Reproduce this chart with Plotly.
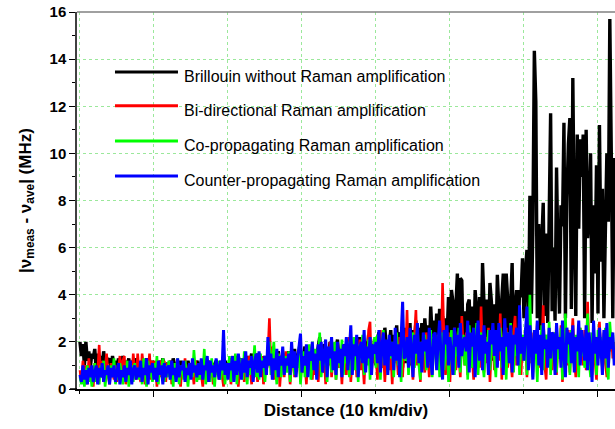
import plotly.graph_objects as go

# ---------------- data ----------------
STEP_KM = 0.2
brillouin = [
    2.0, 1.4, 1.9, 1.0, 2.0, 1.2, 1.6, 0.9, 1.5, 1.3, 1.7, 0.8, 1.5, 1.1, 1.4, 0.9, 1.6, 1.0, 1.3, 1.2,
    1.3, 0.8, 1.4, 1.0, 1.2, 0.7, 1.3, 0.9, 1.1, 1.4, 0.8, 1.2, 1.0, 1.3, 0.7, 1.1, 1.2, 0.9, 1.3, 0.8,
    1.1, 0.9, 1.2, 0.7, 1.0, 1.3, 0.8, 1.1, 0.9, 1.2, 0.7, 1.0, 1.1, 0.8, 1.2, 0.9, 1.3, 0.7, 1.0, 1.1,
    0.9, 1.2, 0.8, 1.3, 1.0, 0.7, 1.1, 0.9, 1.2, 0.8, 1.0, 1.1, 0.7, 1.2, 0.9, 1.0, 0.8, 1.1, 0.9, 1.2,
    1.0, 0.8, 1.2, 0.9, 1.1, 0.7, 1.0, 1.2, 0.8, 1.1, 0.9, 1.0, 1.2, 0.7, 1.1, 0.9, 1.0, 0.8, 1.2, 1.0,
    1.1, 0.9, 1.3, 0.8, 1.2, 1.0, 1.4, 0.9, 1.1, 1.3, 0.8, 1.2, 1.0, 1.4, 0.9, 1.2, 1.5, 1.0, 1.3, 1.5,
    1.2, 1.5, 1.0, 1.3, 1.1, 1.4, 0.9, 1.3, 1.2, 1.5, 1.0, 1.4, 1.1, 1.3, 1.6, 1.0, 1.4, 1.2, 1.5, 1.1,
    1.3, 1.6, 1.1, 1.4, 1.2, 1.7, 1.0, 1.5, 1.3, 1.6, 1.1, 1.4, 1.8, 1.2, 1.5, 1.3, 1.7, 1.1, 1.6, 1.4,
    1.4, 1.8, 2.2, 1.3, 1.6, 1.9, 1.2, 1.7, 1.5, 2.0, 1.3, 1.8, 1.4, 1.6, 2.1, 1.2, 1.7, 1.5, 1.9, 1.4,
    1.8, 1.3, 2.0, 1.6, 1.9, 1.4, 2.1, 1.5, 1.8, 2.2, 1.3, 1.9, 1.6, 2.0, 1.5, 2.3, 1.7, 1.9, 1.4, 2.1,
    1.0, 2.1, 2.4, 1.2, 2.0, 0.9, 2.6, 1.8, 1.1, 1.9, 2.5, 1.0, 2.3, 2.0, 2.7, 1.2, 2.4, 2.1, 0.9, 2.6,
    1.1, 2.6, 1.8, 2.8, 1.0, 2.5, 1.9, 2.9, 1.3, 2.6, 2.0, 2.8, 1.2, 3.0, 2.1, 2.7, 1.4, 3.5, 2.2, 2.9,
    1.8, 3.2, 1.5, 3.4, 2.0, 3.1, 1.2, 3.0, 2.1, 3.9, 1.6, 4.2, 3.7, 1.4, 3.5, 4.9, 1.9, 4.7, 4.6, 1.5,
    3.3, 1.4, 3.6, 3.8, 1.7, 3.5, 1.1, 4.2, 3.4, 1.6, 3.9, 1.3, 5.35, 3.6, 1.5, 3.8, 2.0, 4.5, 3.7, 1.2,
    3.6, 1.5, 4.85, 3.4, 1.8, 3.8, 4.9, 1.3, 4.9, 3.8, 1.7, 3.6, 5.35, 1.4, 3.5, 4.2, 1.9, 4.2, 3.9, 5.55,
    3.0, 5.0, 5.9, 2.6, 8.2, 3.2, 6.8, 14.35, 12.2, 3.0, 7.0, 2.5, 6.2, 7.9, 3.1, 6.6, 2.8, 7.2, 11.7, 3.3,
    6.0, 2.9, 9.4, 5.5, 3.2, 7.8, 6.9, 11.3, 3.0, 8.1, 10.4, 11.5, 3.4, 13.2, 7.0, 3.1, 10.8, 6.8, 10.6, 9.0,
    10.8, 3.0, 11.0, 6.4, 7.5, 10.0, 2.8, 7.8, 4.9, 9.5, 3.2, 11.2, 5.4, 8.5, 3.0, 6.7, 10.0, 7.1, 15.7, 10.0,
    3.0, 9.8,
]
bidirectional = [
    0.8, 0.3, 1.2, 0.5, 1.0, 0.2, 1.3, 0.6, 0.9, 0.1, 1.1, 0.4, 0.7, 1.87, 0.5, 1.2, 0.3, 0.9, 1.5, 0.6,
    0.2, 1.1, 0.7, 0.4, 1.0, 0.3, 0.8, 1.4, 0.5, 1.2, 1.4, 0.2, 0.9, 0.6, 1.1, 0.3, 1.5, 0.8, 0.4, 1.5,
    0.7, 0.3, 1.5, 0.9, 0.2, 1.1, 0.6, 1.5, 0.4, 1.2, 0.8, 1.2, 0.1, 1.0, 1.2, 0.5, 0.9, 1.2, 0.3, 1.1,
    0.6, 1.2, 0.2, 0.9, 1.0, 0.4, 1.1, 0.7, 0.1, 1.0, 0.6, 1.3, 0.3, 0.8, 1.1, 0.5, 0.9, 0.2, 1.2, 0.7,
    0.4, 1.0, 0.6, 0.1, 0.9, 1.2, 0.3, 0.8, 0.5, 1.1, 0.2, 0.9, 0.7, 1.0, 0.4, 1.2, 0.6, 0.1, 1.0, 0.8,
    0.5, 1.2, 0.2, 0.9, 1.4, 0.6, 1.1, 0.1, 1.0, 0.7, 1.3, 0.3, 1.1, 0.5, 1.4, 0.8, 0.2, 1.2, 0.6, 1.3,
    0.3, 1.1, 0.6, 1.4, 0.2, 1.0, 0.7, 1.5, 3.0, 0.9, 1.8, 0.4, 1.2, 0.6, 1.5, 0.1, 1.0, 1.3, 0.5, 1.6,
    0.8, 1.3, 0.2, 1.1, 1.6, 0.5, 1.2, 0.9, 1.7, 0.3, 1.4, 0.7, 1.1, 0.2, 1.5, 1.0, 1.8, 0.4, 1.3, 0.6,
    1.5, 0.3, 1.2, 1.8, 0.7, 1.4, 0.2, 1.6, 1.0, 2.0, 0.5, 1.3, 1.7, 0.4, 1.9, 0.9, 1.4, 0.2, 1.6, 1.1,
    0.6, 1.8, 2.2, 0.3, 1.4, 1.0, 1.9, 0.5, 1.5, 2.1, 0.8, 1.3, 0.2, 1.7, 1.2, 2.5, 2.85, 0.7, 1.6, 1.1,
    1.5, 0.4, 2.0, 2.5, 0.9, 1.7, 0.3, 1.4, 2.0, 0.8, 1.6, 0.2, 1.9, 1.1, 1.5, 0.6, 2.2, 1.3, 0.5, 1.8,
    1.2, 3.35, 0.8, 1.9, 1.4, 0.4, 2.2, 3.35, 1.0, 1.6, 0.3, 2.0, 1.3, 0.7, 2.4, 1.5, 0.5, 2.1, 1.1, 1.8,
    2.3, 0.9, 1.7, 2.6, 1.3, 4.5, 2.0, 0.6, 1.5, 2.4, 0.3, 1.9, 1.2, 2.6, 0.8, 2.0, 1.4, 0.5, 3.1, 1.7,
    1.0, 2.4, 0.6, 1.8, 2.2, 1.3, 0.4, 2.0, 1.6, 2.7, 0.9, 3.5, 1.4, 0.7, 2.2, 1.1, 2.6, 0.3, 1.8, 2.3,
    0.8, 2.5, 1.8, 1.2, 3.2, 0.4, 2.1, 1.6, 2.6, 0.9, 2.0, 1.3, 0.5, 2.4, 3.1, 1.0, 1.7, 2.3, 0.6, 2.0,
    1.4, 2.6, 0.5, 2.0, 1.1, 2.4, 0.7, 1.8, 1.3, 2.85, 0.9, 2.2, 1.6, 3.55, 1.0, 0.4, 2.3, 1.5, 2.0, 0.8,
    1.8, 2.4, 0.6, 2.0, 1.3, 2.7, 0.3, 1.6, 2.2, 1.0, 2.5, 0.7, 1.9, 3.0, 1.4, 0.5, 2.2, 1.1, 2.6, 1.6,
    1.0, 2.5, 0.8, 3.7, 1.4, 2.0, 0.6, 2.3, 1.2, 0.4, 2.1, 2.85, 1.5, 0.9, 2.4, 1.1, 0.5, 2.2, 1.6, 2.4,
    1.3, 2.0,
]
co_propagating = [
    0.5, 0.2, 0.9, 0.1, 0.7, 1.0, 0.3, 0.8, 0.1, 0.6, 1.1, 0.3, 0.8, 0.2, 1.0, 0.5, 1.2, 0.1, 0.7, 0.9,
    0.3, 1.0, 0.6, 1.3, 0.2, 0.8, 0.4, 1.1, 0.7, 0.2, 0.9, 0.5, 1.2, 0.1, 0.8, 1.0, 0.3, 1.1, 0.6, 0.9,
    0.4, 1.0, 0.2, 1.3, 0.7, 0.1, 1.2, 0.5, 0.9, 0.3, 1.1, 0.6, 1.4, 0.2, 1.0, 0.7, 1.3, 0.3, 1.0, 0.5,
    1.2, 0.4, 0.9, 0.1, 1.1, 0.6, 1.3, 0.2, 0.8, 1.0, 0.4, 1.2, 0.7, 0.1, 0.9, 1.1, 0.5, 1.65, 0.8, 0.3,
    1.0, 0.4, 1.2, 0.6, 1.7, 0.2, 0.9, 1.1, 0.3, 1.3, 0.7, 0.1, 1.0, 0.6, 1.2, 0.4, 0.8, 1.3, 0.2, 1.0,
    0.6, 1.4, 0.3, 1.0, 0.8, 1.5, 0.2, 1.1, 0.7, 1.3, 0.4, 1.6, 0.9, 0.2, 1.2, 0.6, 1.4, 1.0, 1.85, 0.5,
    1.2, 0.4, 1.5, 0.8, 1.3, 0.3, 1.1, 1.6, 2.0, 0.6, 1.4, 2.0, 0.9, 0.2, 1.5, 1.1, 0.5, 1.6, 1.0, 1.4,
    0.7, 1.6, 0.3, 1.2, 1.5, 0.6, 1.3, 0.9, 1.8, 0.2, 1.1, 1.6, 0.5, 1.4, 0.8, 1.9, 0.4, 1.2, 1.0, 1.7,
    0.8, 1.3, 2.4, 0.5, 1.6, 1.0, 1.9, 0.3, 1.4, 1.8, 0.7, 1.5, 2.0, 0.4, 1.2, 1.7, 0.9, 2.1, 0.6, 1.5,
    1.1, 2.0, 0.5, 1.7, 1.3, 2.2, 0.8, 1.5, 0.3, 1.9, 1.2, 2.3, 0.6, 1.6, 1.0, 2.1, 0.4, 1.8, 1.4, 2.2,
    0.9, 2.3, 1.5, 0.4, 1.9, 2.5, 1.1, 1.6, 0.7, 2.2, 1.3, 2.0, 0.5, 1.8, 2.4, 1.0, 1.5, 0.3, 2.1, 1.7,
    1.2, 2.2, 0.6, 1.9, 1.4, 2.4, 0.9, 1.7, 2.7, 1.0, 0.4, 2.0, 1.5, 2.3, 0.8, 1.8, 1.1, 2.5, 0.5, 1.6,
    2.0, 1.0, 2.3, 0.5, 1.8, 2.4, 0.8, 1.6, 2.2, 0.3, 1.7, 2.5, 1.1, 0.6, 2.0, 1.4, 2.6, 0.7, 1.8, 2.3,
    1.0, 2.0, 0.4, 2.7, 1.5, 0.9, 2.2, 1.3, 2.8, 0.6, 1.9, 2.4, 1.2, 0.5, 2.1, 1.6, 2.5, 0.8, 1.7, 2.2,
    1.3, 0.5, 2.3, 1.8, 2.6, 0.9, 1.5, 2.1, 0.4, 2.4, 1.1, 2.8, 1.6, 0.7, 2.2, 1.4, 2.5, 0.6, 1.9, 2.3,
    1.2, 2.6, 0.6, 2.1, 4.0, 1.4, 0.5, 2.4, 1.8, 0.3, 2.2, 1.5, 2.7, 0.8, 1.9, 2.3, 1.1, 2.85, 0.6, 2.0,
    1.6, 2.4, 0.7, 2.0, 1.3, 2.6, 0.4, 1.8, 3.2, 1.1, 2.2, 0.6, 2.5, 1.5, 0.9, 2.3, 1.7, 0.5, 2.6, 1.4,
    2.1, 0.9, 1.6, 3.2, 1.2, 0.5, 2.4, 1.8, 2.0, 0.6, 2.5, 1.3, 2.2, 0.8, 1.7, 2.6, 1.0, 0.4, 2.85, 1.9,
    2.3, 1.2,
]
counter_propagating = [
    0.6, 0.3, 1.0, 0.4, 0.8, 0.2, 0.9, 0.5, 1.0, 0.3, 0.7, 1.0, 0.2, 0.9, 0.5, 1.1, 0.3, 0.8, 0.6, 1.0,
    0.2, 0.9, 0.5, 1.0, 0.3, 0.7, 1.1, 0.2, 0.8, 0.5, 1.0, 0.3, 0.9, 0.6, 1.2, 0.2, 0.8, 1.0, 0.4, 0.9,
    0.5, 1.2, 0.3, 0.9, 0.6, 1.3, 0.2, 1.0, 0.7, 1.1, 0.4, 0.9, 0.3, 1.2, 0.6, 1.0, 0.2, 1.1, 0.5, 0.9,
    1.0, 0.4, 1.2, 0.6, 0.9, 0.3, 1.3, 0.5, 1.0, 0.8, 1.2, 0.3, 0.9, 0.6, 1.1, 0.4, 1.3, 0.7, 1.0, 0.5,
    1.1, 0.6, 1.3, 0.4, 1.0, 0.8, 1.4, 0.3, 1.2, 0.7, 1.0, 0.5, 1.3, 0.9, 0.4, 1.2, 0.8, 2.5, 0.6, 1.1,
    0.4, 1.1, 0.8, 1.4, 0.3, 1.2, 0.6, 1.5, 0.9, 0.4, 1.3, 0.7, 1.6, 0.5, 1.2, 0.9, 1.4, 0.3, 1.1, 1.5,
    0.7, 1.6, 0.5, 1.2, 0.9, 1.4, 0.6, 2.2, 1.0, 1.5, 0.4, 1.3, 0.8, 1.7, 0.5, 1.4, 1.0, 1.8, 0.6, 1.3,
    1.0, 1.5, 0.6, 2.0, 0.9, 1.6, 0.5, 1.3, 1.8, 2.35, 0.7, 1.4, 1.0, 1.9, 0.5, 1.6, 1.2, 2.0, 0.8, 1.5,
    0.4, 1.9, 1.2, 2.0, 0.7, 1.5, 2.1, 0.5, 1.8, 1.3, 2.2, 0.8, 1.6, 0.6, 2.0, 1.1, 1.7, 0.5, 1.9, 1.4,
    2.2, 0.8, 1.6, 2.7, 0.6, 1.9, 1.4, 2.3, 0.5, 1.7, 2.0, 1.1, 2.5, 0.7, 1.8, 1.3, 2.2, 0.6, 1.9, 1.5,
    2.0, 1.1, 2.5, 0.7, 1.8, 2.4, 1.0, 2.1, 0.6, 2.3, 1.4, 2.0, 0.8, 2.6, 1.2, 1.9, 0.5, 2.2, 3.7, 1.3,
    1.4, 2.2, 0.9, 2.6, 1.7, 0.5, 2.3, 1.5, 2.8, 1.1, 2.0, 0.7, 2.4, 1.6, 2.1, 0.9, 2.6, 1.3, 0.6, 2.3,
    2.4, 0.8, 2.0, 2.9, 1.3, 0.4, 2.5, 1.9, 2.7, 1.0, 2.2, 1.5, 0.6, 2.6, 1.8, 2.3, 0.9, 2.8, 1.4, 2.0,
    2.2, 1.6, 2.9, 0.7, 2.4, 1.8, 2.6, 0.5, 2.1, 2.9, 1.2, 2.3, 0.8, 2.7, 1.5, 2.0, 0.6, 2.5, 1.9, 2.8,
    1.4, 2.5, 0.9, 2.8, 1.6, 2.2, 0.6, 3.0, 1.8, 2.4, 1.1, 2.7, 0.7, 2.3, 1.9, 2.6, 1.0, 3.55, 1.5, 2.2,
    1.2, 2.4, 3.5, 0.8, 2.7, 1.9, 0.4, 2.5, 1.5, 2.9, 1.0, 2.3, 0.6, 2.8, 1.7, 2.1, 0.9, 2.6, 1.3, 2.4,
    2.3, 0.6, 2.8, 1.7, 2.2, 0.9, 2.9, 1.4, 0.5, 2.6, 1.9, 2.4, 1.1, 2.7, 0.7, 2.2, 1.6, 2.9, 1.0, 2.5,
    1.9, 1.2, 2.7, 0.8, 2.4, 1.6, 0.3, 2.9, 1.5, 2.2, 1.0, 2.6, 1.8, 0.6, 2.5, 1.3, 2.8, 0.9, 2.2, 1.7,
    2.4, 1.0,
]
series_names = [
    "Brillouin without Raman amplification",
    "Bi-directional Raman amplification",
    "Co-propagating Raman amplification",
    "Counter-propagating Raman amplification",
]
series_colors = ["#000000", "#ff0000", "#00ff00", "#0000ff"]
series_widths = [3.4, 2.6, 2.6, 3.0]
y_tick_values = [0, 2, 4, 6, 8, 10, 12, 14, 16]

distance = [round(i * STEP_KM, 2) for i in range(len(brillouin))]

FONT = "Liberation Sans, Arial, sans-serif"
GRID = "#9be89b"

fig = go.Figure()
for vals, name, col, lw in zip(
    [brillouin, bidirectional, co_propagating, counter_propagating],
    series_names, series_colors, series_widths,
):
    fig.add_trace(go.Scatter(
        x=distance, y=vals, mode="lines", name=name,
        line=dict(color=col, width=lw, simplify=False), showlegend=False,
    ))

# manual legend (long line samples as in the reference)
legend_rows = [0.841, 0.751, 0.658, 0.565]
for name, col, yp in zip(series_names, series_colors, legend_rows):
    fig.add_shape(type="line", xref="paper", yref="paper",
                  x0=0.0706, x1=0.1877, y0=yp, y1=yp,
                  line=dict(color=col, width=3))
    fig.add_annotation(xref="paper", yref="paper", x=0.195, y=yp - 0.011,
                       text=name, showarrow=False, xanchor="left",
                       yanchor="middle",
                       font=dict(family=FONT, size=16, color="#000000"))

# frame: top border and the short left extension of the bottom axis line
fig.add_shape(type="line", xref="paper", yref="paper", x0=0, x1=1, y0=1, y1=1,
              line=dict(color="#808080", width=1.5))
fig.add_shape(type="line", xref="paper", yref="paper", x0=-0.013, x1=0, y0=0, y1=0,
              line=dict(color="#000000", width=1.5))

fig.update_layout(
    width=615, height=429,
    margin=dict(l=77, r=0, t=12, b=40),
    paper_bgcolor="white", plot_bgcolor="white",
    font=dict(family=FONT, color="#000000"),
    xaxis=dict(
        range=[-0.4, 72.3], automargin=False,
        tickvals=[10, 30, 50, 70], showticklabels=False,
        ticks="outside", ticklen=6, tickwidth=1.2, tickcolor="#000000",
        showline=True, linecolor="#000000", linewidth=1.5,
        showgrid=True, gridcolor=GRID, griddash="dot", gridwidth=1,
        zeroline=False,
        minor=dict(tickvals=[0, 20, 40, 60], ticks="outside", ticklen=3,
                   tickcolor="#000000", showgrid=True, gridcolor=GRID,
                   griddash="dot", gridwidth=1),
        title=dict(text="<b>Distance (10 km/div)</b>", standoff=8,
                   font=dict(family=FONT, size=17)),
    ),
    yaxis=dict(
        range=[0, 16], automargin=False,
        tickvals=y_tick_values,
        ticktext=[f"<b>{v}</b>" for v in y_tick_values],
        tickfont=dict(family=FONT, size=15),
        ticks="outside", ticklen=6, tickwidth=1.2, tickcolor="#000000",
        showline=True, linecolor="#404040", linewidth=1.5,
        showgrid=True, gridcolor=GRID, griddash="dot", gridwidth=1,
        zeroline=False,
        minor=dict(dtick=1, ticks="outside", ticklen=3, tickcolor="#000000",
                   showgrid=False),
        title=dict(text="<b>|ν<sub>meas</sub> - ν<sub>ave</sub>| (MHz)</b>",
                   standoff=14, font=dict(family=FONT, size=17)),
    ),
)

fig.write_html(
    "out.html",
    config={"displayModeBar": False},
    post_script="document.body.style.margin='0';document.body.style.overflow='hidden';",
)
